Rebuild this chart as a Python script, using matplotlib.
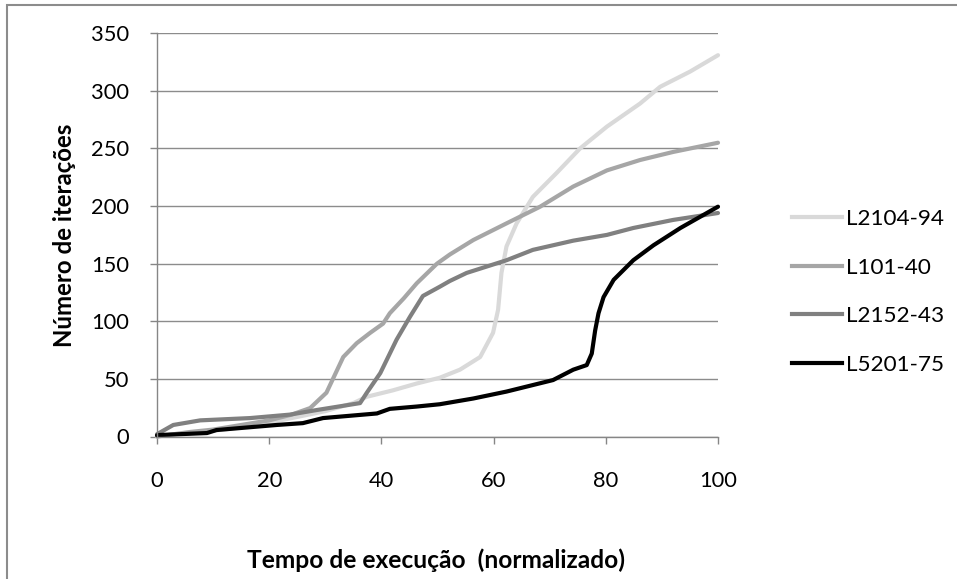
import matplotlib
matplotlib.use("Agg")
import matplotlib.pyplot as plt
from matplotlib.lines import Line2D

plt.rcParams['font.family'] = ['Lato', 'DejaVu Sans']

series_names = ["L2104-94", "L101-40", "L2152-43", "L5201-75"]
series_colors = ["#d9d9d9", "#a6a6a6", "#808080", "#000000"]

x_l2104 = [0, 3, 6, 10, 15, 20, 25, 30, 35, 37.4, 42, 46.3, 50.4, 54, 57.6, 59.9, 60.8, 61.4, 62.3, 64.1, 67, 71.2, 75.4, 80.2, 86.1, 89.7, 95, 100]
y_l2104 = [0, 2, 3, 5, 8, 12, 17, 22, 29, 34.5, 40, 46, 51, 58, 69, 90, 110, 142, 165, 185, 208, 228.6, 250, 269, 289, 303.6, 316.7, 331]

x_l101 = [0, 3, 6, 10, 15, 20, 24, 27.3, 30.2, 33.2, 35.6, 38, 40.3, 41.5, 44, 46.3, 49.9, 52.2, 56.4, 62.3, 68.3, 74.2, 80.2, 86.1, 92, 100]
y_l101 = [0, 2, 4, 6, 10, 14, 19, 24.7, 38, 69, 81, 90, 98, 107, 120, 133, 150, 158, 170.6, 185, 199.5, 217, 231, 240, 247, 255]

x_l2152 = [0, 2.9, 7.7, 16.6, 23.7, 28.5, 36.2, 37.4, 39.8, 42.7, 45.1, 47.4, 50.4, 52.2, 55.2, 62.3, 67, 74.2, 80.2, 84.9, 92, 100]
y_l2152 = [2, 10, 14, 16, 19, 23, 29, 38, 55, 84, 104, 122, 130, 135, 142, 153, 162, 170, 175, 181, 188, 194]

x_l5201 = [0, 0.5, 8.9, 10.6, 21.3, 26, 29.6, 39.2, 41.5, 46.3, 50.4, 56.4, 62.3, 70.6, 74.2, 76.6, 77.5, 78.1, 78.7, 79.6, 81.4, 84.9, 88.5, 93.3, 100]
y_l5201 = [1, 1.3, 3, 5.6, 10, 11.6, 16, 20, 24, 26, 28, 33, 39, 49, 58, 62, 72, 92, 107, 121, 136, 153, 166, 181, 199.5]

x_ticks = [0, 20, 40, 60, 80, 100]
y_ticks = [0, 50, 100, 150, 200, 250, 300, 350]

W, H = 957, 579
fig = plt.figure(figsize=(W / 100, H / 100), dpi=100)
renderer = fig.canvas.get_renderer()


def fit_size(text, target_px, weight='normal'):
    t = fig.text(0, 0, text, fontsize=10, fontweight=weight)
    w = t.get_window_extent(renderer).width
    t.remove()
    return 10 * target_px / w


tick_fs = fit_size("100", 38)
leg_fs = fit_size("L2104-94", 98)
xlab = "Tempo de execução  (normalizado)"
ylab = "Número de iterações"
xlab_fs = fit_size(xlab, 378, 'bold')
ylab_fs = fit_size(ylab, 225, 'bold')

ax = fig.add_axes([157 / W, 1 - 436.5 / H, (718 - 157) / W, (436.5 - 33.3) / H])

data = [(x_l2104, y_l2104), (x_l101, y_l101), (x_l2152, y_l2152), (x_l5201, y_l5201)]
for (xs, ys), name, col in zip(data, series_names, series_colors):
    ax.plot(xs, ys, color=col, lw=3.0, label=name, solid_joinstyle='round',
            solid_capstyle='round', clip_on=False)

ax.set_xlim(0, 100)
ax.set_ylim(0, 350)
ax.set_xticks(x_ticks)
ax.set_yticks(y_ticks)
ax.grid(axis='y', color='#8c8c8c', lw=1.0)
ax.set_axisbelow(True)
for s in ['top', 'right']:
    ax.spines[s].set_visible(False)
for s in ['left', 'bottom']:
    ax.spines[s].set_color('#868686')
    ax.spines[s].set_linewidth(1.0)
ax.tick_params(axis='both', colors='#868686', labelcolor='black', labelsize=tick_fs,
               length=5, width=1.0, direction='out')
ax.tick_params(axis='x', pad=20)
ax.tick_params(axis='y', pad=15)

ax.set_xlabel(xlab, fontsize=xlab_fs, fontweight='bold')
ax.set_ylabel(ylab, fontsize=ylab_fs, fontweight='bold')
ax.xaxis.set_label_coords(0.497, (436.5 - 548) / 403.2)
ax.yaxis.set_label_coords((76 - 157) / 561, 0.5)

handles = [Line2D([0], [0], color=c, lw=3.0) for c in series_colors]
fig.legend(handles, series_names, loc='center left', bbox_to_anchor=(772 / W, 1 - 292 / H),
           frameon=False, fontsize=leg_fs, handlelength=2.2, handletextpad=0.2,
           labelspacing=1.27)

# outer frame
fig.add_artist(plt.Rectangle((6.5 / W, -0.01), 1.1, 1 - 4.5 / H + 0.01, transform=fig.transFigure,
                             fill=False, edgecolor='#8c8c8c', lw=1.5))

fig.savefig("out.png", dpi=100)
